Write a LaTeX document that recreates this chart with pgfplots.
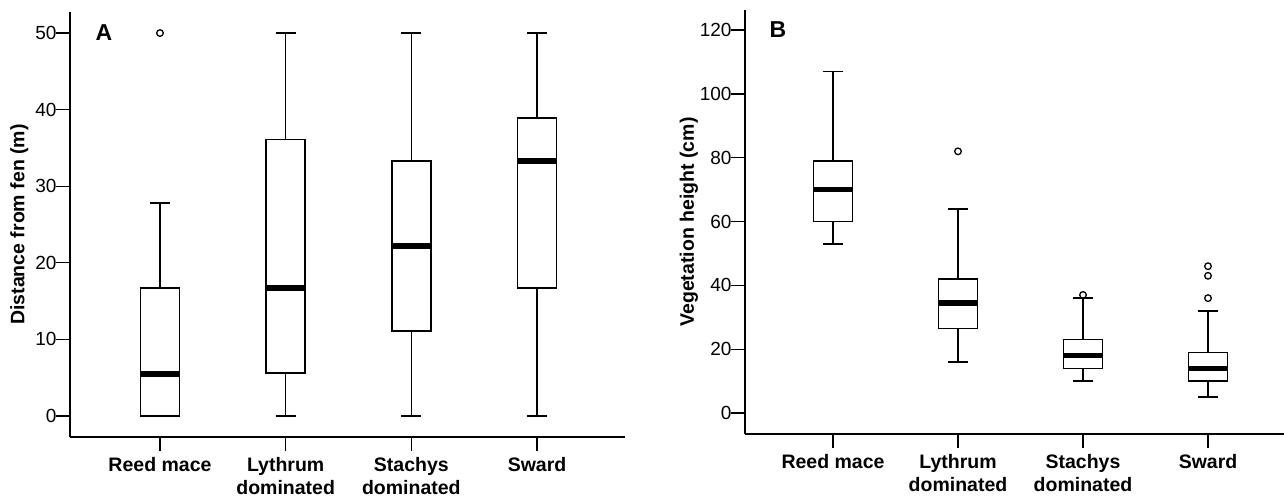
\documentclass[border=0pt]{standalone}
\usepackage{fontspec}
\setmainfont{Liberation Sans}
\usepackage{pgfplots}
\pgfplotsset{compat=1.18}
\usepgfplotslibrary{statistics}

\pgfplotsset{
  panel/.style={
    scale only axis,
    anchor=south west,
    axis x line=bottom,
    axis y line=left,
    axis line style={-, line width=1.5pt},
    tick style={black, line width=1.2pt},
    tick align=outside,
    major tick length=14pt,
    xtick={1,2,3,4},
    xticklabels={Reed mace, {Lythrum\\dominated}, {Stachys\\dominated}, Sward},
    xticklabel style={align=center, yshift=-3pt, font=\fontsize{19.5}{23}\selectfont\bfseries},
    yticklabel style={font=\fontsize{19}{22}\selectfont, xshift=4pt},
    ylabel style={font=\fontsize{19.5}{23}\selectfont\bfseries},
    /pgf/number format/assume math mode=true,
    boxplot/draw direction=y,
    boxplot/box extend=0.31,
    boxplot/whisker extend=0.16,
    boxplot/every median/.style={line width=5.5pt},
    clip=false,
  },
  bx/.style={black, line width=1.6pt, fill=white, mark=o, mark size=3.3pt,
    mark options={line width=1.3pt, fill=white}},
}

\begin{document}
\begin{tikzpicture}[x=1pt,y=1pt]
\useasboundingbox (0,0) rectangle (1284,497);

% panel A: distance from fen
\begin{axis}[panel,
  at={(70pt,60pt)}, width=555pt, height=425pt,
  xmin=0.284, xmax=4.70, ymin=-2.74, ymax=52.75,
  ytick={0,10,20,30,40,50},
  ylabel={Distance from fen (m)}]
\addplot+[bx, boxplot prepared={draw position=1, lower whisker=0, lower quartile=0,
  median=5.5, upper quartile=16.7, upper whisker=27.8}]
  table[row sep=\\, y index=0] {50\\};
\addplot+[bx, boxplot prepared={draw position=2, lower whisker=0, lower quartile=5.6,
  median=16.7, upper quartile=36.1, upper whisker=50}] coordinates {};
\addplot+[bx, boxplot prepared={draw position=3, lower whisker=0, lower quartile=11.1,
  median=22.2, upper quartile=33.3, upper whisker=50}] coordinates {};
\addplot+[bx, boxplot prepared={draw position=4, lower whisker=0, lower quartile=16.7,
  median=33.3, upper quartile=38.9, upper whisker=50}] coordinates {};
\node[font=\fontsize{23}{25}\selectfont\bfseries] at (rel axis cs:0.061,0.951) {A};
\end{axis}

% panel B: vegetation height
\begin{axis}[panel,
  at={(745pt,63pt)}, width=539pt, height=424pt,
  xmin=0.296, xmax=4.608, ymin=-6.58, ymax=126.3,
  ytick={0,20,40,60,80,100,120},
  ylabel style={yshift=-5pt},
  ylabel={Vegetation height (cm)}]
\addplot+[bx, boxplot prepared={draw position=1, lower whisker=53, lower quartile=60,
  median=70, upper quartile=79, upper whisker=107}] coordinates {};
\addplot+[bx, boxplot prepared={draw position=2, lower whisker=16, lower quartile=26.5,
  median=34.5, upper quartile=42, upper whisker=64}]
  table[row sep=\\, y index=0] {82\\};
\addplot+[bx, boxplot prepared={draw position=3, lower whisker=10, lower quartile=14,
  median=18, upper quartile=23, upper whisker=36}]
  table[row sep=\\, y index=0] {37\\};
\addplot+[bx, boxplot prepared={draw position=4, lower whisker=5, lower quartile=10,
  median=14, upper quartile=19, upper whisker=32}]
  table[row sep=\\, y index=0] {36\\43\\46\\};
\node[font=\fontsize{23}{25}\selectfont\bfseries] at (rel axis cs:0.061,0.953) {B};
\end{axis}
\end{tikzpicture}
\end{document}
